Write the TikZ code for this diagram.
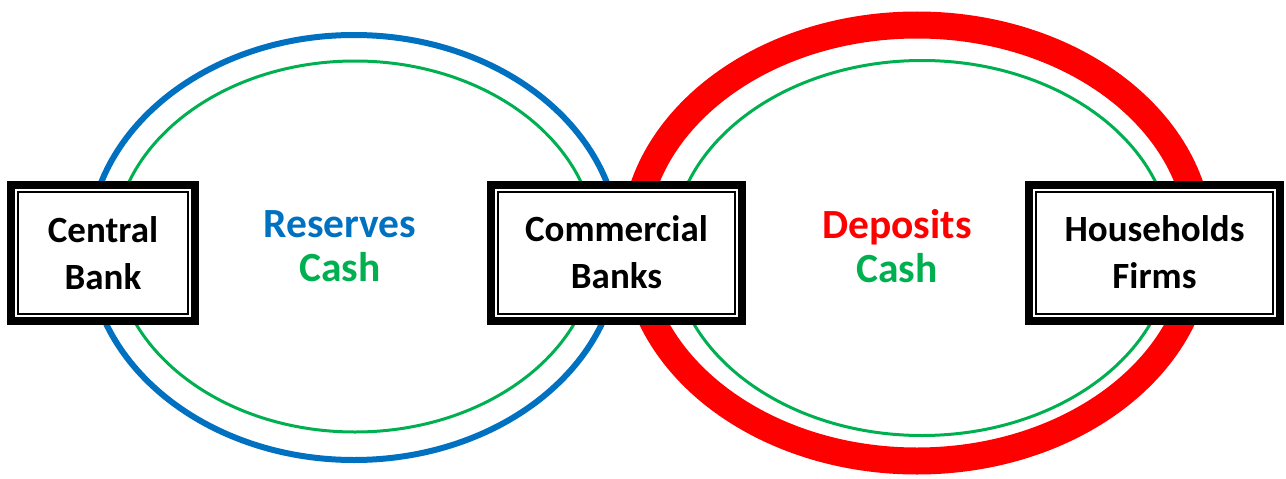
\documentclass[tikz,border=0pt]{standalone}
\usepackage{fontspec}
\setmainfont{Carlito}
\definecolor{ringblue}{RGB}{0,112,192}
\definecolor{ringgreen}{RGB}{0,176,80}
\definecolor{ringred}{RGB}{255,0,0}
\tikzset{
  bankbox/.style={draw=black, fill=white, line width=8pt, minimum width=251pt, minimum height=136pt,
    align=center, inner sep=0pt, font=\fontsize{37pt}{47pt}\selectfont\bfseries},
  innerframe/.style={draw=black, line width=2pt},
  flowlabel/.style={align=center, inner sep=0pt, font=\fontsize{41.5pt}{44pt}\selectfont\bfseries}
}
\begin{document}
\begin{tikzpicture}[x=1pt,y=-1pt]
\useasboundingbox (0,0) rectangle (1286,479);
% rings
\draw[ringblue, line width=6pt] (354,247.5) ellipse [x radius=265.5, y radius=212.5];
\draw[ringgreen, line width=3pt] (355,246.5) ellipse [x radius=241, y radius=185.5];
\draw[ringred, line width=27pt] (917,243) ellipse [x radius=283, y radius=218];
\draw[ringgreen, line width=3pt] (922,248) ellipse [x radius=249.5, y radius=187.5];
% boxes
\node[bankbox, minimum width=184pt] (cb) at (103,253) {Central\\Bank};
\node[bankbox] (com) at (616.5,252.5) {Commercial\\Banks};
\node[bankbox] (hh) at (1154.5,252.5) {Households\\Firms};
\foreach \n in {cb,com,hh}{
  \draw[innerframe] ([shift={(11pt,11pt)}]\n.south west) rectangle ([shift={(-11pt,-11pt)}]\n.north east);
}
% labels
\node[flowlabel] (res) at (340,246.5) {\textcolor{ringblue}{Reserves}\\\textcolor{ringgreen}{Cash}};
\node[flowlabel] (dep) at (897,246.5) {\textcolor{ringred}{Deposits}\\\textcolor{ringgreen}{Cash}};
\end{tikzpicture}
\end{document}
